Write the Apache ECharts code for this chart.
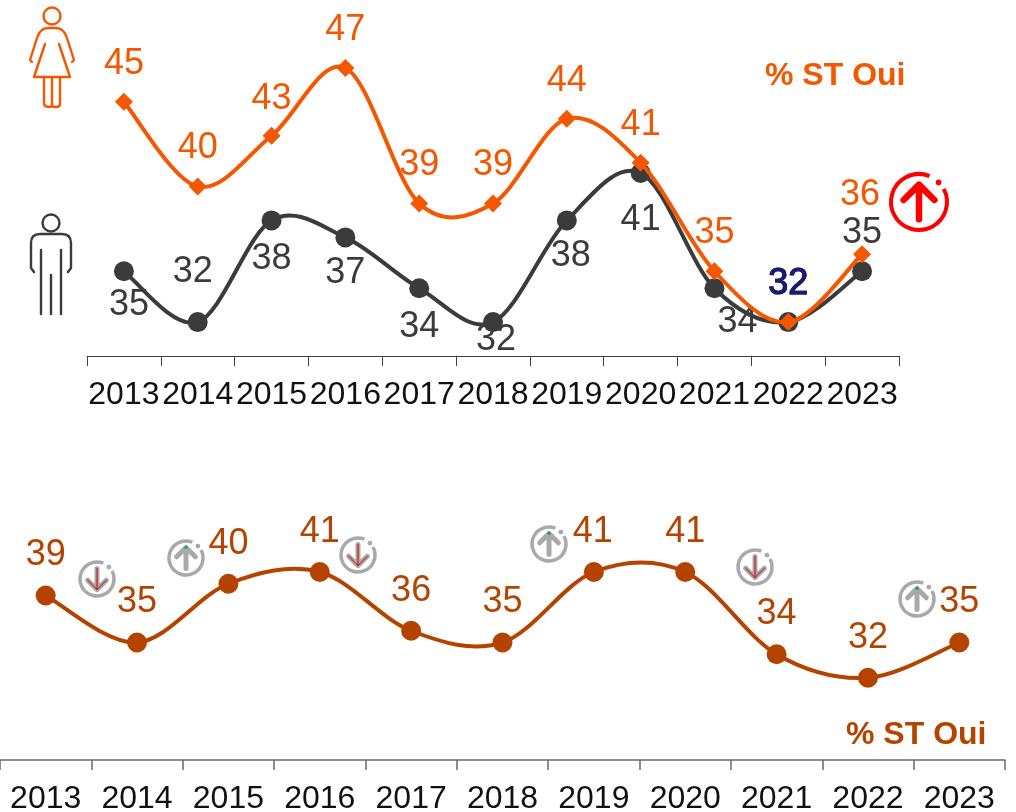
<!DOCTYPE html>
<html>
<head>
<meta charset="utf-8">
<style>
html, body { margin: 0; padding: 0; background: #fff; }
#main { width: 1016px; height: 812px; }
</style>
<script src="https://cdn.jsdelivr.net/npm/echarts@6/dist/echarts.min.js"></script>
</head>
<body>
<div id="main"></div>
<script>
const years = ['2013', '2014', '2015', '2016', '2017', '2018', '2019', '2020', '2021', '2022', '2023'];
const femmes = [45, 40, 43, 47, 39, 39, 44, 41.4, 35, 32, 36];
const hommes = [35, 32, 38, 37, 34, 32, 38, 40.8, 34, 32, 35];
const ensemble = [39, 35, 40, 41, 36, 35, 41, 41, 34, 32, 35];

// label offsets from each point, px
const femmesOffsets = [[0, -38], [0, -38], [0, -37], [0, -38], [0, -38], [0, -38], [0, -38], [0, -38], [0, -38], [0, -38], [-2, -59]];
const hommesOffsets = [[5, 34], [-5, -50], [0, 39], [0, 36], [0, 39], [3, 18], [4, 36], [0, 47], [23, 34], [0, -38], [0, -38]];
const ensembleOffsets = [[0, -40], [0, -40], [0, -40], [0, -40], [0, -40], [0, -40], [-1, -40], [0, -40], [0, -40], [0, -40], [0, -40]];

const ORANGE = '#F55600';
const DARK = '#3B3B3B';
const RUST = '#B54300';
const NAVY = '#1C1C6E';
const FONT = '"Liberation Sans", Arial, sans-serif';

function makeLabels(values, offsets, color, special) {
    return values.map(function (v, i) {
        let label = {
            show: true, position: 'inside', offset: offsets[i], color: color, fontSize: 36, fontFamily: FONT,
            formatter: function (p) { return String(Math.round(p.value)); }
        };
        if (special === i) {
            label.color = NAVY;
            label.textBorderColor = NAVY;
            label.textBorderWidth = 1;
        }
        return { value: v, label: label };
    });
}

function xAxisFor(index, tickLen, lineColor, lineWidth) {
    return {
        type: 'category',
        gridIndex: index,
        data: years,
        axisLine: { lineStyle: { color: lineColor, width: lineWidth } },
        axisTick: { show: true, length: tickLen, lineStyle: { color: lineColor, width: lineWidth } },
        axisLabel: { interval: 0, margin: 23, color: '#111', fontSize: 32, fontFamily: FONT }
    };
}

// line smooth clamps at each point, the reference curve overshoots like an office chart,
// so the curve is a custom series: one bezier per segment, tangents from the neighbours
function curveSeries(values, axisIndex, color, width, z) {
    return {
        type: 'custom',
        xAxisIndex: axisIndex,
        yAxisIndex: axisIndex,
        silent: true,
        z: z,
        encode: { x: 0, y: 1 },
        data: values.map(function (v, i) { return [i, v]; }),
        renderItem: function (params, api) {
            let i = params.dataIndex;
            if (i >= values.length - 1) {
                return null;
            }
            let at = function (k) {
                let n = Math.max(0, Math.min(values.length - 1, k));
                return api.coord([n, values[n]]);
            };
            let p0 = at(i - 1), p1 = at(i), p2 = at(i + 1), p3 = at(i + 2);
            return {
                type: 'bezierCurve',
                shape: {
                    x1: p1[0], y1: p1[1], x2: p2[0], y2: p2[1],
                    cpx1: p1[0] + (p2[0] - p0[0]) / 6, cpy1: p1[1] + (p2[1] - p0[1]) / 6,
                    cpx2: p2[0] - (p3[0] - p1[0]) / 6, cpy2: p2[1] - (p3[1] - p1[1]) / 6
                },
                style: { fill: null, stroke: color, lineWidth: width, lineCap: 'round' }
            };
        }
    };
}

function pointSeries(name, data, axisIndex, symbol, size, color, z) {
    return {
        name: name, type: 'line', xAxisIndex: axisIndex, yAxisIndex: axisIndex,
        symbol: symbol, symbolSize: size, z: z, silent: true,
        lineStyle: { width: 0 }, itemStyle: { color: color },
        data: data
    };
}

// the graphic component has no 'path' type, so each icon path gets a registered shape
let shapeCount = 0;
function strokePath(d, color, width) {
    let name = 'iconPath' + (shapeCount++);
    echarts.graphic.registerShape(name, echarts.graphic.extendPath(d));
    return {
        type: name,
        silent: true,
        style: { fill: null, stroke: color, lineWidth: width, lineCap: 'round', lineJoin: 'round' }
    };
}

// circled arrow, the ring is open at the top right where the small dot sits
function arrowIcon(cx, cy, r, up, color, ringWidth, arrowWidth, core) {
    let ring = { type: 'arc', silent: true, shape: { cx: cx, cy: cy, r: r, startAngle: -28 * Math.PI / 180, endAngle: -68 * Math.PI / 180, clockwise: true },
        style: { fill: null, stroke: color, lineWidth: ringWidth } };
    let dot = { type: 'circle', silent: true, shape: { cx: cx + r * 0.7, cy: cy - r * 0.7, r: ringWidth * 0.7 }, style: { fill: color } };
    let dir = up ? -1 : 1;
    let h = r * 0.62, w = r * 0.55;
    let arrowD = 'M' + cx + ' ' + (cy - dir * h) + 'L' + cx + ' ' + (cy + dir * h) +
        'M' + (cx - w) + ' ' + (cy + dir * (h - w)) + 'L' + cx + ' ' + (cy + dir * h) + 'L' + (cx + w) + ' ' + (cy + dir * (h - w));
    let parts = [ring, dot, strokePath(arrowD, color, arrowWidth)];
    if (core === 'down') {
        parts.push(strokePath(arrowD, '#D00000', 1));
    }
    if (core === 'up') {
        parts.push({ type: 'circle', silent: true, shape: { cx: cx, cy: cy + dir * h, r: 1.6 }, style: { fill: '#00B050' } });
    }
    return parts;
}

const femaleIcon = [
    { type: 'circle', silent: true, shape: { cx: 52, cy: 16, r: 8.5 }, style: { fill: null, stroke: ORANGE, lineWidth: 2.4 } },
    strokePath('M32 62L30 60L37 38Q40 28 48 28L56 28Q64 28 67 38L74 60L72 62', ORANGE, 2.4),
    strokePath('M45 44L34 77L70 77L59 44', ORANGE, 2.4),
    strokePath('M44 77L44 104Q45 107 49 107Q52 107 52 105Q52 107 56 107Q60 107 60 104L60 77M52 77L52 105', ORANGE, 2.4)
];
const maleIcon = [
    { type: 'circle', silent: true, shape: { cx: 51, cy: 223, r: 8.5 }, style: { fill: null, stroke: DARK, lineWidth: 2.4 } },
    strokePath('M34 272L31 268L31 243Q31 234 40 234L62 234Q71 234 71 243L71 268L68 272', DARK, 2.4),
    strokePath('M41 250L41 314M61 250L61 314M51 275L51 314', DARK, 2.4)
];

const GREY = '#A9A9A9';
let icons = [].concat(
    femaleIcon,
    maleIcon,
    arrowIcon(919, 202, 28, true, '#FF0000', 4, 6.5),
    arrowIcon(97, 579, 17, false, GREY, 3.5, 5, 'down'),
    arrowIcon(186, 558, 17, true, GREY, 3.5, 5, 'up'),
    arrowIcon(358, 555, 17, false, GREY, 3.5, 5, 'down'),
    arrowIcon(549, 544, 17, true, GREY, 3.5, 5, 'up'),
    arrowIcon(755, 567, 17, false, GREY, 3.5, 5, 'down'),
    arrowIcon(917, 599, 17, true, GREY, 3.5, 5, 'up'),
    [
        { type: 'text', silent: true, x: 765, y: 60, style: { text: '% ST Oui', fill: ORANGE, font: 'bold 32px ' + FONT } },
        { type: 'text', silent: true, x: 846, y: 719, style: { text: '% ST Oui', fill: RUST, font: 'bold 32px ' + FONT } }
    ]
);

let chart = echarts.init(document.getElementById('main'));
let option = {
    backgroundColor: '#fff',
    animation: false,
    // outerBoundsMode none: v6 would otherwise shrink the grid to keep labels inside
    grid: [
        { left: 87, top: 51, width: 812, height: 305, outerBoundsMode: 'none' },
        { left: 0, top: 525, width: 1005, height: 235, outerBoundsMode: 'none' }
    ],
    xAxis: [xAxisFor(0, 10, '#404040', 1), xAxisFor(1, 10, '#6a6a6a', 1.5)],
    yAxis: [
        { type: 'value', gridIndex: 0, min: 30, max: 48, show: false },
        { type: 'value', gridIndex: 1, min: 25, max: 45, show: false }
    ],
    graphic: icons,
    series: [
        curveSeries(hommes, 0, DARK, 4, 2),
        pointSeries('Hommes', makeLabels(hommes, hommesOffsets, DARK, 9), 0, 'circle', 20, DARK, 3),
        curveSeries(femmes, 0, ORANGE, 4, 4),
        pointSeries('Femmes', makeLabels(femmes, femmesOffsets, ORANGE, 9), 0, 'diamond', 18, ORANGE, 5),
        curveSeries(ensemble, 1, RUST, 4, 2),
        pointSeries('Ensemble', makeLabels(ensemble, ensembleOffsets, RUST), 1, 'circle', 20, RUST, 3)
    ]
};
chart.setOption(option);
</script>
</body>
</html>
